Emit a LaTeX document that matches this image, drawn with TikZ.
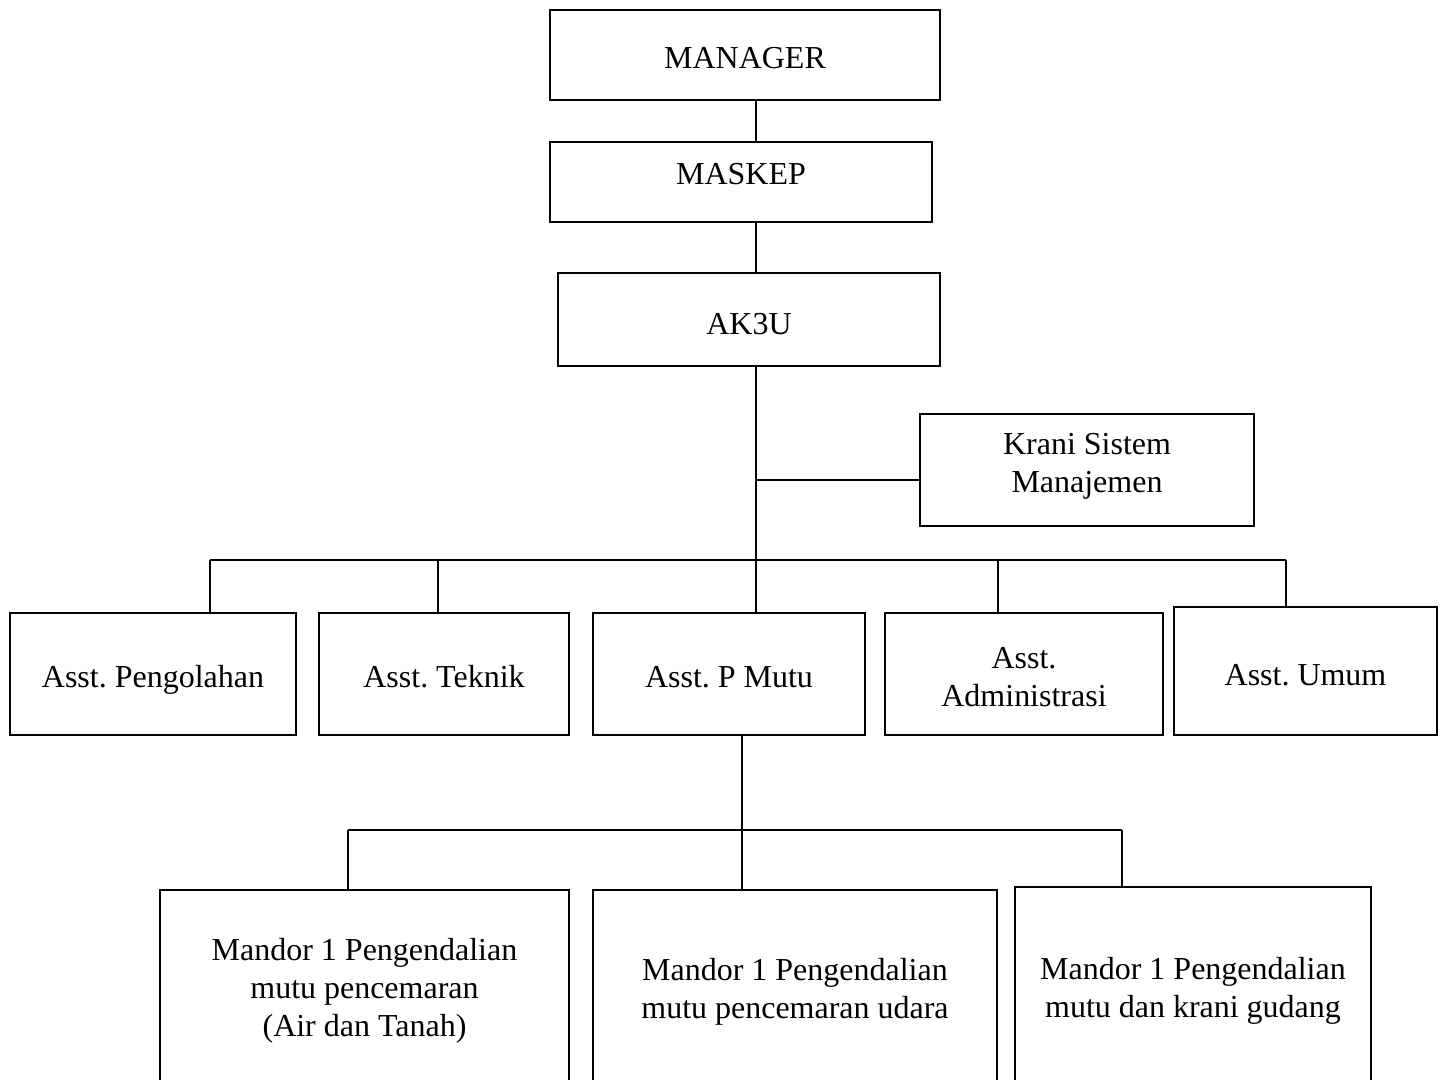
\documentclass[tikz,border=0pt]{standalone}
\usepackage{fontspec}
\setmainfont{Liberation Serif}
\frenchspacing
\tikzset{
  box/.style={draw, line width=1pt, inner sep=0pt},
  txt/.style={align=center, yshift=-0.08cm},
}

\begin{document}
\begin{tikzpicture}[line width=1pt, font=\fontsize{18.2}{21.6}\selectfont]
  \useasboundingbox (0,0) rectangle (28.84,-21.58);
  \clip (0,0) rectangle (28.84,-21.58);

  % pimpinan
  \node[box, minimum width=7.80cm, minimum height=1.80cm, label={[txt, yshift=0.02cm]center:MANAGER}] (manager) at (14.90,-1.10) {};
  \node[box, minimum width=7.64cm, minimum height=1.60cm, label={[txt, yshift=0.24cm]center:MASKEP}] (maskep) at (14.82,-3.64) {};
  \node[box, minimum width=7.64cm, minimum height=1.86cm, label={[txt, yshift=-0.02cm]center:AK3U}] (ak3u) at (14.98,-6.39) {};
  \node[box, minimum width=6.68cm, minimum height=2.24cm, label={[txt, yshift=0.16cm]center:Krani Sistem\\Manajemen}] (krani) at (21.74,-9.40) {};

  % asisten
  \node[box, minimum width=5.72cm, minimum height=2.44cm, label={[txt, yshift=-0.04cm]center:Asst. Pengolahan}] (pengolahan) at (3.06,-13.48) {};
  \node[box, minimum width=5.00cm, minimum height=2.44cm, label={[txt, yshift=0.02cm]center:Asst. Teknik}] (teknik) at (8.88,-13.48) {};
  \node[box, minimum width=5.44cm, minimum height=2.44cm, label={[txt, yshift=0.02cm]center:Asst. P Mutu}] (pmutu) at (14.58,-13.48) {};
  \node[box, minimum width=5.56cm, minimum height=2.44cm, label={[txt, yshift=0.02cm]center:Asst.\\Administrasi}] (admin) at (20.48,-13.48) {};
  \node[box, minimum width=5.26cm, minimum height=2.56cm, label={[txt]center:Asst. Umum}] (umum) at (26.11,-13.42) {};

  % mandor
  \node[box, minimum width=8.18cm, minimum height=3.88cm, label={[txt]center:Mandor 1 Pengendalian\\mutu pencemaran\\(Air dan Tanah)}] (mandorA) at (7.29,-19.74) {};
  \node[box, minimum width=8.08cm, minimum height=3.92cm, label={[txt]center:Mandor 1 Pengendalian\\mutu pencemaran udara}] (mandorB) at (15.90,-19.76) {};
  \node[box, minimum width=7.12cm, minimum height=4.00cm, label={[txt]center:Mandor 1 Pengendalian\\mutu dan krani gudang}] (mandorC) at (23.86,-19.74) {};

  % garis
  \coordinate (trunk) at (15.12,-11.20);
  \coordinate (kj) at (15.12,-9.60);
  \draw (manager.south -| trunk) -- (maskep.north -| trunk);
  \draw (maskep.south -| trunk) -- (ak3u.north -| trunk);
  \draw (ak3u.south -| trunk) -- (pmutu.north -| trunk);
  \draw (kj) -- (kj -| krani.west);

  \coordinate (busA) at (4.20,-11.20);
  \coordinate (busB) at (8.76,-11.20);
  \coordinate (busD) at (19.96,-11.20);
  \coordinate (busE) at (25.72,-11.20);
  \draw (busA) -- (busE);
  \draw (busA) -- (busA |- pengolahan.north);
  \draw (busB) -- (busB |- teknik.north);
  \draw (busD) -- (busD |- admin.north);
  \draw (busE) -- (busE |- umum.north);

  \coordinate (low) at (14.84,-16.60);
  \coordinate (lowA) at (6.96,-16.60);
  \coordinate (lowC) at (22.44,-16.60);
  \draw (pmutu.south -| low) -- (mandorB.north -| low);
  \draw (lowA) -- (lowC);
  \draw (lowA) -- (lowA |- mandorA.north);
  \draw (lowC) -- (lowC |- mandorC.north);
\end{tikzpicture}
\end{document}
